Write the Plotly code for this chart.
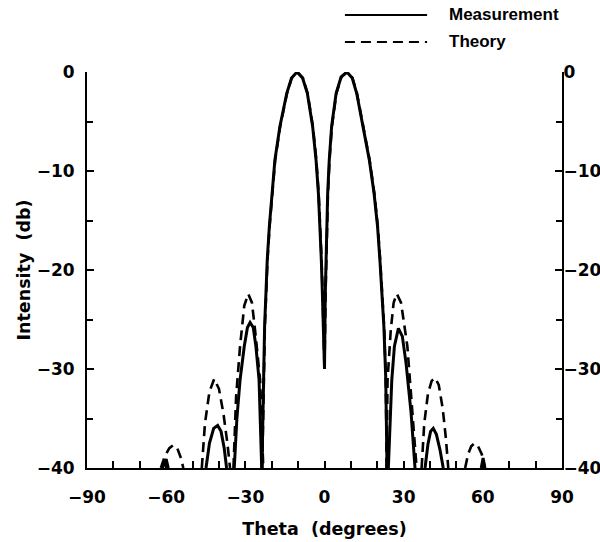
import plotly.graph_objects as go

# ---------------------------------------------------------------------------
# Data (theta in degrees, intensity in dB).
# None separates the lobes; everything below -40 dB is off the chart.
# ---------------------------------------------------------------------------

meas_theta = [
    -61.4, -60.0, -59.2, None,
    -44.9, -43.6, -42.0, -40.5, -39.2, -38.0, -37.1, None,
    -34.2, -33.2, -32.0, -30.4, -29.2, -28.2, -27.0, -26.0, -24.8, -24.1, -23.8, None,
    -23.7, -23.2, -22.7, -22.2, -21.7, -20.9, -20.0, -18.8, -16.9, -14.3, -12.5, -10.4,
    -8.3, -6.5, -4.5, -3.2, -2.3, -1.7, -1.2, -0.8, -0.5, 0.0,
    0.3, 0.6, 0.8, 1.2, 1.8, 2.7, 4.4, 6.3, 8.5, 10.5, 12.2, 14.7, 17.0, 18.8,
    20.1, 21.0, 21.9, 22.5, 23.2, 23.7, None,
    24.2, 24.8, 25.5, 26.5, 28.0, 29.5, 30.9, 32.8, 34.3, None,
    38.1, 39.2, 40.2, 41.2, 42.4, 43.8, 45.0, None,
    59.4, 60.1, 60.8,
]
meas_db = [
    -40, -39.1, -40, None,
    -40, -37.5, -36.0, -35.7, -36.3, -38.0, -40, None,
    -40, -35.0, -31.1, -27.7, -25.8, -25.3, -25.8, -27.7, -31.1, -36.2, -40, None,
    -40, -30.8, -25.7, -22.4, -19.0, -15.6, -12.3, -8.9, -5.5, -2.15, -0.6, 0.0,
    -0.6, -2.15, -5.5, -8.9, -12.3, -15.6, -19.0, -22.4, -25.7, -30.0,
    -22.4, -19.0, -15.6, -12.3, -8.9, -5.5, -2.15, -0.5, 0.0, -0.6, -2.15, -5.5, -8.9, -12.3,
    -15.6, -19.0, -22.4, -25.7, -30.8, -40, None,
    -40, -35.0, -31.1, -27.7, -25.9, -26.7, -29.4, -34.4, -40, None,
    -40, -37.6, -36.3, -36.0, -36.6, -38.2, -40, None,
    -40, -39.0, -40,
]

theory_theta = [
    -62.0, -60.5, -58.8, -57.3, -55.8, -54.4, -53.5, None,
    -46.5, -45.3, -43.6, -41.8, -40.0, -38.3, -36.8, -35.8, None,
    -34.5, -33.5, -32.0, -30.4, -28.9, -27.5, -26.3, -24.4, -23.2, None,
    -23.6, -23.1, -22.6, -22.1, -21.6, -20.8, -19.9, -18.7, -16.8, -14.2, -12.4, -10.3,
    -8.2, -6.4, -4.4, -3.1, -2.2, -1.6, -1.1, -0.7, -0.4, 0.0,
    0.4, 0.7, 0.9, 1.3, 1.9, 2.8, 4.5, 6.4, 8.6, 10.6, 12.3, 14.8, 17.1, 18.9,
    20.2, 21.1, 22.0, 22.6, 23.2, 23.6, None,
    23.5, 23.9, 25.1, 26.2, 27.4, 29.0, 31.4, 33.4, 34.9, None,
    36.8, 37.8, 39.2, 40.6, 41.9, 43.3, 44.8, 46.0, 46.9, None,
    53.3, 54.4, 55.6, 56.8, 58.2, 59.6, 60.8,
]
theory_db = [
    -40, -38.8, -38.0, -37.7, -38.0, -39.0, -40, None,
    -40, -35.5, -32.3, -31.0, -32.0, -34.5, -37.5, -40, None,
    -40, -32.8, -27.7, -23.6, -22.4, -23.3, -26.1, -31.1, -40, None,
    -40, -30.8, -25.7, -22.4, -19.0, -15.6, -12.3, -8.9, -5.5, -2.15, -0.6, 0.0,
    -0.6, -2.15, -5.5, -8.9, -12.3, -15.6, -19.0, -22.4, -25.7, -30.0,
    -22.4, -19.0, -15.6, -12.3, -8.9, -5.5, -2.15, -0.5, 0.0, -0.6, -2.15, -5.5, -8.9, -12.3,
    -15.6, -19.0, -22.4, -25.7, -30.8, -40, None,
    -40, -31.1, -26.1, -23.3, -22.4, -23.3, -27.7, -34.4, -40, None,
    -40, -35.5, -32.5, -31.2, -30.9, -31.6, -34.0, -37.0, -40, None,
    -40, -38.6, -37.8, -37.5, -37.8, -38.6, -40,
]

x_ticks = [-90, -60, -30, 0, 30, 60, 90]
y_ticks = [0, -10, -20, -30, -40]

AXIS_FONT = "DejaVu Sans"
LEGEND_FONT = "Liberation Sans"
DASH = "10px,6px"

fig = go.Figure()

fig.add_trace(
    go.Scatter(
        x=theory_theta,
        y=theory_db,
        mode="lines",
        name="Theory",
        line=dict(color="black", width=2.6, dash=DASH),
        connectgaps=False,
    )
)
fig.add_trace(
    go.Scatter(
        x=meas_theta,
        y=meas_db,
        mode="lines",
        name="Measurement",
        line=dict(color="black", width=3),
        connectgaps=False,
    )
)
# invisible trace so the right-hand axis is drawn
fig.add_trace(
    go.Scatter(x=[0], y=[0], yaxis="y2", mode="lines",
               line=dict(width=0), hoverinfo="skip", showlegend=False)
)

tick_font = dict(family=AXIS_FONT, size=17, color="black", weight="bold")
title_font = dict(family=AXIS_FONT, size=17.5, color="black", weight="bold")

yaxis_common = dict(
    range=[-40, 0],
    tickvals=y_ticks,
    ticks="inside",
    ticklen=7,
    tickwidth=1.5,
    tickcolor="black",
    minor=dict(dtick=5, ticks="inside", ticklen=6, tickwidth=1.5, tickcolor="black"),
    showline=True,
    linecolor="black",
    linewidth=2,
    showgrid=False,
    zeroline=False,
    tickfont=tick_font,
    automargin=False,
)

fig.update_layout(
    width=600,
    height=542,
    margin=dict(l=87, r=38, t=72, b=74),
    paper_bgcolor="white",
    plot_bgcolor="white",
    showlegend=False,
    xaxis=dict(
        range=[-90, 90],
        tickvals=x_ticks,
        ticks="inside",
        ticklen=7,
        tickwidth=1.5,
        tickcolor="black",
        minor=dict(dtick=10, ticks="inside", ticklen=7, tickwidth=1.5, tickcolor="black"),
        showline=True,
        linecolor="black",
        linewidth=2,
        showgrid=False,
        zeroline=False,
        tickfont=tick_font,
        ticklabelstandoff=13,
        automargin=False,
        title=dict(text="Theta\u00a0\u00a0(degrees)", font=title_font, standoff=16),
    ),
    yaxis=dict(
        **yaxis_common,
        ticklabelstandoff=7,
        title=dict(text="Intensity\u00a0\u00a0(db)", font=title_font, standoff=2),
    ),
    yaxis2=dict(
        **yaxis_common,
        overlaying="y",
        side="right",
        ticklabelstandoff=-4,
    ),
)

# legend drawn in the top-right corner, as in the original
legend_items = [("Measurement", "solid", 1.144), ("Theory", DASH, 1.076)]
for label, dash, ypos in legend_items:
    fig.add_shape(
        type="line", xref="paper", yref="paper",
        x0=0.543, x1=0.716, y0=ypos, y1=ypos,
        line=dict(color="black", width=2, dash=dash),
    )
    fig.add_annotation(
        x=0.758, y=ypos, xref="paper", yref="paper",
        text=label, showarrow=False, xanchor="left", yanchor="middle",
        font=dict(family=LEGEND_FONT, size=17, color="black", weight="bold"),
    )

# drop the default page margin so the 600x542 figure fills the window
fig.write_html(
    "out.html",
    config={"displayModeBar": False},
    post_script="document.body.style.margin='0';document.body.style.overflow='hidden';",
)
